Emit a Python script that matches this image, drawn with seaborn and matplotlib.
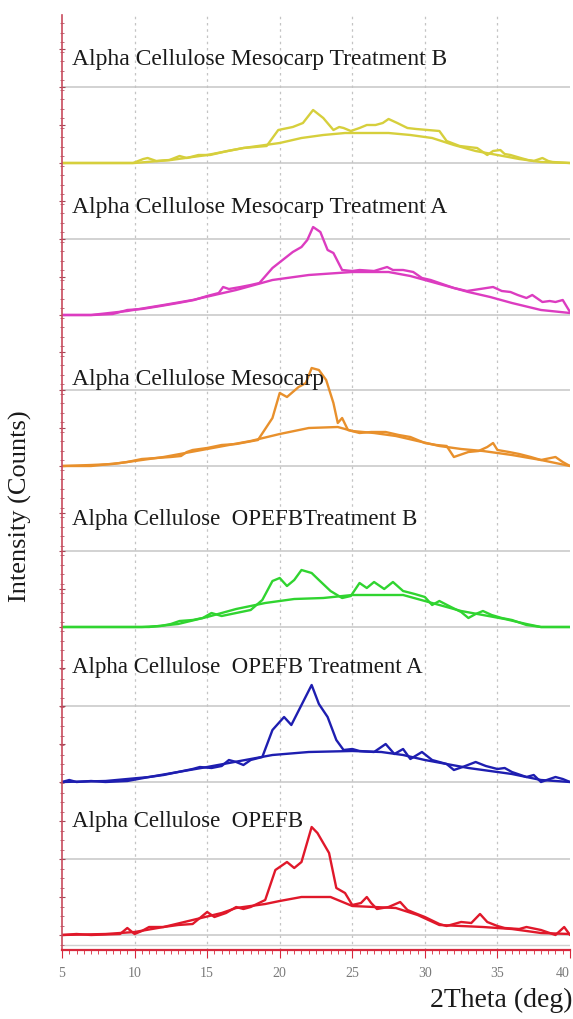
import matplotlib
matplotlib.use('Agg')
import matplotlib.pyplot as plt
from matplotlib.ticker import MultipleLocator, AutoMinorLocator, FixedLocator
import seaborn as sns
import pandas as pd

# sample names, top to bottom
labels = ['Alpha Cellulose Mesocarp Treatment B',
          'Alpha Cellulose Mesocarp Treatment A',
          'Alpha Cellulose Mesocarp',
          'Alpha Cellulose  OPEFBTreatment B',
          'Alpha Cellulose  OPEFB Treatment A',
          'Alpha Cellulose  OPEFB']
colors = ['#d6cf3c', '#dc3cc0', '#e8902c', '#30d430', '#1e1eb0', '#e0182a']

meso_b_x = [5, 9.9, 10.6, 10.9, 11.5, 12.4, 13.1, 13.6, 14.4, 15.2, 16.4, 17.5, 18.3, 19.1, 19.9, 20.9, 21.6, 22.3,
            23.0, 23.7, 24.1, 24.4, 24.9, 25.5, 26.0, 26.6, 27.1, 27.5, 28.1, 28.8, 29.4, 30.2, 31.0, 31.5, 32.4,
            33.0, 33.6, 34.3, 34.7, 35.2, 35.5, 35.9, 36.6, 37.1, 37.5, 38.1, 38.5, 38.8, 40]
meso_b_y = [0, 0, 4, 5, 2, 3, 7, 5, 8, 8, 12, 15, 16, 17, 33, 36, 40, 53,
            45, 33, 36, 35, 32, 35, 38, 38, 40, 44, 40, 35, 34, 33, 32, 22, 17,
            16, 15, 8, 12, 13, 9, 8, 5, 3, 2, 5, 2, 1, 0]
meso_a_x = [5, 7.1, 8.5, 9.5, 10.5, 11.8, 13, 14.1, 15, 15.8, 16.1, 16.5, 17.3, 18, 18.6, 19.5, 20.2, 20.9, 21.5,
            21.9, 22.3, 22.8, 23.3, 23.7, 24.3, 25, 25.5, 26.5, 27.4, 27.8, 28.5, 29.2, 29.8, 30.4, 31.2, 32.0,
            32.9, 33.8, 34.7, 35.3, 35.9, 36.4, 37.0, 37.4, 38.1, 38.6, 39.0, 39.5, 40]
meso_a_y = [0, 0, 1, 5, 6, 9, 12, 15, 19, 22, 28, 26, 28, 30, 32, 47, 55, 63, 68,
            75, 88, 83, 65, 62, 45, 44, 45, 44, 48, 45, 45, 43, 37, 35, 31, 27,
            24, 26, 28, 24, 23, 20, 17, 20, 13, 14, 13, 15, 3]
meso_x = [5, 7, 8.5, 9.5, 10.5, 11.5, 12.5, 13.2, 13.6, 14, 15, 16, 17, 18.5, 19.5, 20, 20.5, 21.3, 21.8, 22.2,
          22.7, 23.2, 23.7, 24.0, 24.3, 24.7, 25.5, 26.3, 27.3, 28.2, 29, 30, 30.8, 31.5, 32, 33, 33.7, 34.3,
          34.7, 35, 35.8, 36.5, 37.3, 38, 39, 39.5, 40]
meso_y = [0, 1, 2, 4, 7, 8, 9, 10, 14, 16, 18, 21, 22, 26, 48, 73, 69, 79, 83, 98,
          96, 86, 63, 43, 48, 36, 33, 34, 34, 31, 29, 23, 21, 20, 9, 14, 15, 19,
          23, 16, 14, 12, 9, 6, 9, 4, 0]
opefb_b_x = [5, 10.5, 11.8, 12.5, 13.1, 14, 14.7, 15.3, 16, 17, 18, 18.8, 19.5, 20, 20.5, 21, 21.5, 22.2, 22.7,
             23.5, 24.3, 24.9, 25.5, 26, 26.5, 27.2, 27.8, 28.5, 29.3, 30, 30.5, 31, 31.8, 32.5, 33, 33.5, 34,
             34.6, 35.3, 36, 37, 38, 40]
opefb_b_y = [0, 0, 1, 3, 6, 7, 9, 14, 11, 14, 17, 27, 46, 49, 41, 47, 57, 54, 47,
             36, 29, 31, 44, 39, 45, 38, 45, 36, 33, 30, 22, 26, 20, 15, 9, 13, 16,
             12, 9, 7, 2, 0, 0]
opefb_a_x = [5, 5.5, 6, 7, 8, 9.5, 11, 12, 13, 14, 14.5, 15.3, 16, 16.5, 17, 17.5, 18, 18.8, 19.5, 20.3, 20.8,
             21.5, 22.2, 22.7, 23.3, 23.9, 24.4, 25, 25.5, 26.5, 27.3, 27.9, 28.5, 29, 29.8, 30.5, 31, 31.5, 32,
             32.6, 33.5, 34.2, 35, 35.5, 36, 37, 37.5, 38, 39, 39.5, 40]
opefb_a_y = [0, 2, 0, 1, 0, 1, 5, 7, 10, 13, 15, 14, 16, 22, 20, 17, 22, 25, 52, 65, 57,
             77, 97, 78, 65, 42, 32, 33, 31, 30, 38, 28, 33, 23, 30, 22, 20, 18, 12,
             15, 20, 16, 13, 14, 10, 5, 7, 0, 5, 3, 0]
opefb_x = [5, 6, 7, 9, 9.5, 10, 10.5, 11, 12, 13, 14, 15, 15.5, 16.3, 17, 17.5, 18, 19, 19.7, 20.5, 21, 21.5,
           22.2, 22.6, 23, 23.4, 23.9, 24.5, 25, 25.6, 26, 26.3, 26.7, 27.5, 28.3, 28.8, 29.3, 30, 31, 31.5,
           32.5, 33.2, 33.8, 34.3, 35, 35.5, 36.5, 37, 38, 39, 39.6, 40]
opefb_y = [0, 1, 0, 1, 7, 1, 4, 8, 8, 10, 11, 23, 18, 22, 28, 26, 28, 35, 65, 73, 67, 73,
           108, 102, 92, 82, 47, 42, 30, 32, 38, 32, 26, 28, 33, 25, 22, 18, 11, 9,
           13, 12, 21, 13, 9, 7, 6, 8, 5, 0, 8, 0]

# amorphous background curves
bg_meso_b_x = [5, 10, 12.5, 15, 17.5, 19, 20, 21.5, 23, 24.5, 26, 27.5, 29, 30.5, 32, 33.5, 35, 36.5, 38, 40]
bg_meso_b_y = [0, 0, 3, 8, 15, 18, 20, 25, 28, 30, 30, 30, 28, 25, 18, 12, 8, 4, 1, 0]
bg_meso_a_x = [5, 7, 9.5, 12, 14, 17, 19.5, 22, 24, 25, 27.5, 29, 30, 31.5, 33, 34.5, 36, 38, 40]
bg_meso_a_y = [0, 0, 4, 10, 15, 25, 35, 40, 42, 43, 43, 39, 35, 29, 23, 18, 12, 5, 2]
bg_meso_x = [5, 7, 9, 12, 15, 18, 20, 22, 24, 25, 26.5, 28, 29.5, 31, 32.5, 34, 36, 38, 40]
bg_meso_y = [0, 0, 3, 9, 17, 25, 32, 38, 39, 35, 33, 30, 25, 20, 17, 15, 11, 6, 0]
bg_opefb_b_x = [5, 11, 13, 15, 17, 19, 21, 23, 25, 27, 28.5, 29.5, 31, 32.5, 34, 35.5, 37, 38, 40]
bg_opefb_b_y = [0, 0, 3, 10, 18, 24, 28, 29, 32, 32, 32, 28, 22, 16, 12, 8, 3, 0, 0]
bg_opefb_a_x = [5, 8, 11, 15, 18, 19.5, 22, 25, 27, 28.5, 30, 31.5, 33, 36, 38, 40]
bg_opefb_a_y = [0, 1, 5, 15, 23, 27, 30, 31, 30, 27, 22, 18, 14, 8, 2, 0]
bg_opefb_x = [5, 8, 10, 12, 14, 16, 17, 19, 20, 21.5, 23.5, 25, 26.5, 28, 29.5, 31, 32.5, 34, 36, 38, 40]
bg_opefb_y = [0, 1, 3, 8, 15, 22, 27, 31, 34, 38, 38, 29, 28, 27, 20, 10, 9, 8, 6, 2, 1]

measured = [(meso_b_x, meso_b_y), (meso_a_x, meso_a_y), (meso_x, meso_y),
            (opefb_b_x, opefb_b_y), (opefb_a_x, opefb_a_y), (opefb_x, opefb_y)]
background = [(bg_meso_b_x, bg_meso_b_y), (bg_meso_a_x, bg_meso_a_y), (bg_meso_x, bg_meso_y),
              (bg_opefb_b_x, bg_opefb_b_y), (bg_opefb_a_x, bg_opefb_a_y), (bg_opefb_x, bg_opefb_y)]

x_ticks = [5, 10, 15, 20, 25, 30, 35, 40]

# stacking layout (vertical offset of each pattern, label height, grid line above it)
offsets = [787, 635, 484, 323, 168, 15]
label_y = [890, 742, 570, 430, 282, 128]
label_size = [17, 17, 17, 16.5, 16.5, 16.5]
grid_step = 76

sns.set_style('white')
plt.rcParams['font.family'] = ['Liberation Serif', 'DejaVu Serif']

fig = plt.figure(figsize=(5.73, 10.19), dpi=100)
ax = fig.add_axes([62 / 573, 1 - 950 / 1019, (570 - 62) / 573, (950 - 15) / 1019])

# gridlines
for off in offsets:
    ax.axhline(off, color='#cfcfcf', lw=1.3, zorder=0)
    ax.axhline(off + grid_step, color='#cfcfcf', lw=1.3, zorder=0)
ax.axhline(5, color='#d0d0d0', lw=1.0, zorder=0)
for xv in x_ticks[1:-1]:
    ax.axvline(xv, color='#c4c4c4', lw=0.9, ls=(0, (2, 3)), zorder=0)

for i in range(len(labels)):
    mx, my = measured[i]
    bx, by = background[i]
    df_m = pd.DataFrame({'two_theta': mx, 'intensity': [v + offsets[i] for v in my]})
    df_b = pd.DataFrame({'two_theta': bx, 'intensity': [v + offsets[i] for v in by]})
    sns.lineplot(data=df_b, x='two_theta', y='intensity', color=colors[i], lw=1.7,
                 estimator=None, sort=False, ax=ax)
    sns.lineplot(data=df_m, x='two_theta', y='intensity', color=colors[i], lw=1.7,
                 estimator=None, sort=False, ax=ax)
    ax.text(5.7, label_y[i], labels[i], fontsize=label_size[i], color='#1a1a1a', va='center', ha='left')

ax.set_xlim(5, 40)
ax.set_ylim(0, 935)

# axis styling
for side in ['top', 'right']:
    ax.spines[side].set_visible(False)
ax.spines['left'].set_color('#c84a5c')
ax.spines['bottom'].set_color('#d8283c')
ax.spines['left'].set_linewidth(1.2)
ax.spines['bottom'].set_linewidth(1.6)

ax.set_xticks(x_ticks)
ax.set_xticklabels([str(t) for t in x_ticks])
ax.xaxis.set_minor_locator(MultipleLocator(0.5))
ax.tick_params(axis='x', which='major', direction='out', length=6, width=0.8, color='#d8283c',
               labelsize=10, labelcolor='#7a7a7a', pad=6)
ax.tick_params(axis='x', which='minor', direction='out', length=3, width=0.6, color='#d8283c')
ax.tick_params(axis='x', which='both', bottom=True)
ax.get_xticklabels()[-1].set_ha('right')

ytick_pos = []
for off in offsets:
    ytick_pos += [off, off + grid_step / 2, off + grid_step, off + grid_step * 1.5]
ax.yaxis.set_major_locator(FixedLocator(ytick_pos))
ax.yaxis.set_minor_locator(AutoMinorLocator(4))
ax.tick_params(axis='y', which='major', direction='inout', length=5, width=0.8, color='#a04858',
               labelleft=False, left=True)
ax.tick_params(axis='y', which='minor', direction='inout', length=3, width=0.6, color='#b05868', left=True)

ax.set_xlabel('')
ax.set_ylabel('')
fig.text(20 / 573, 1 - 506 / 1019, 'Intensity (Counts)', rotation=90, fontsize=19,
         ha='center', va='center', color='#1a1a1a')
fig.text(0.999, 1 - 1000 / 1019, '2Theta (deg)', fontsize=20, ha='right', va='center', color='#1a1a1a')

fig.savefig('out.png', dpi=100)
